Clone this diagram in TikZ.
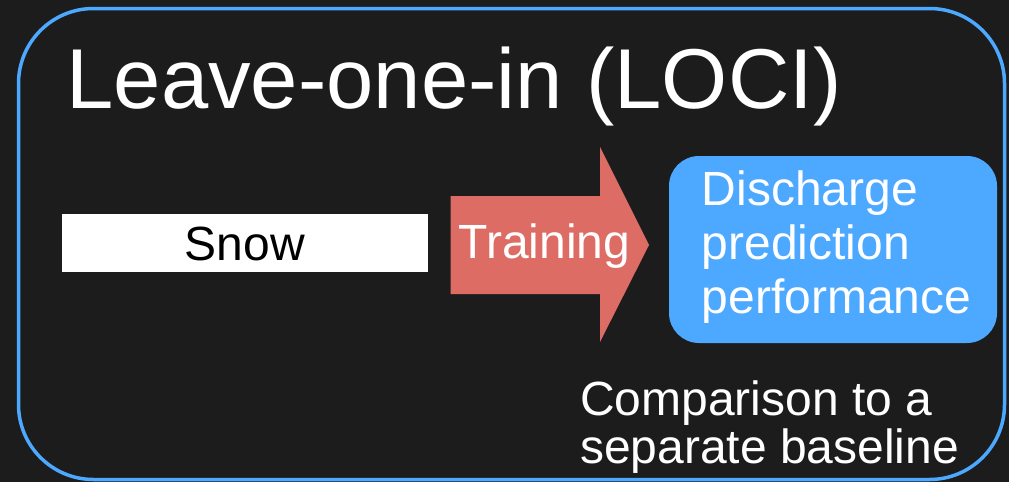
\documentclass[tikz,border=0pt]{standalone}
\usepackage{fontspec}
\setmainfont{Liberation Sans}
\definecolor{bgc}{RGB}{28,28,28}
\definecolor{blueC}{RGB}{77,168,255}
\definecolor{redC}{RGB}{221,108,101}
\tikzset{
  txt/.style={inner sep=0pt, text=white, font=\fontsize{48}{55}\selectfont},
  titletxt/.style={inner sep=0pt, text=white, font=\fontsize{85}{100}\selectfont},
}
\begin{document}
\begin{tikzpicture}[x=1pt,y=-1pt]
\useasboundingbox (0,0) rectangle (1009,482);
\fill[bgc] (0,0) rectangle (1009,482);
% outer frame
\draw[blueC, line width=3.5pt, rounded corners=75pt] (18.5,8.5) rectangle (1004.5,479.5);
% title
\node[titletxt, anchor=base west] (title) at (66.5,108.3) {Leave-one-in (LOCI)};
% snow box
\fill[white] (61.7,214) rectangle (427.7,271.7);
\node[txt, text=black, anchor=base] (snow) at (245,260.7) {Snow};
% training arrow
\fill[redC] (450.7,196) -- (600,196) -- (600,147) -- (649,245) -- (600,342) -- (600,294) -- (450.7,294) -- cycle;
\node[txt, anchor=base] (train) at (544.5,258) {Training};
% blue result box
\fill[blueC, rounded corners=30pt] (669,156) rectangle (997,343);
\node[txt, anchor=base west] (d1) at (701.5,205) {Discharge};
\node[txt, anchor=base west] (d2) at (701.5,259.5) {prediction};
\node[txt, anchor=base west] (d3) at (701.5,313.5) {performance};
% comparison text
\node[txt, anchor=base west] (c1) at (580,415) {Comparison to a};
\node[txt, anchor=base west] (c2) at (580,463.5) {separate baseline};
\end{tikzpicture}
\end{document}
